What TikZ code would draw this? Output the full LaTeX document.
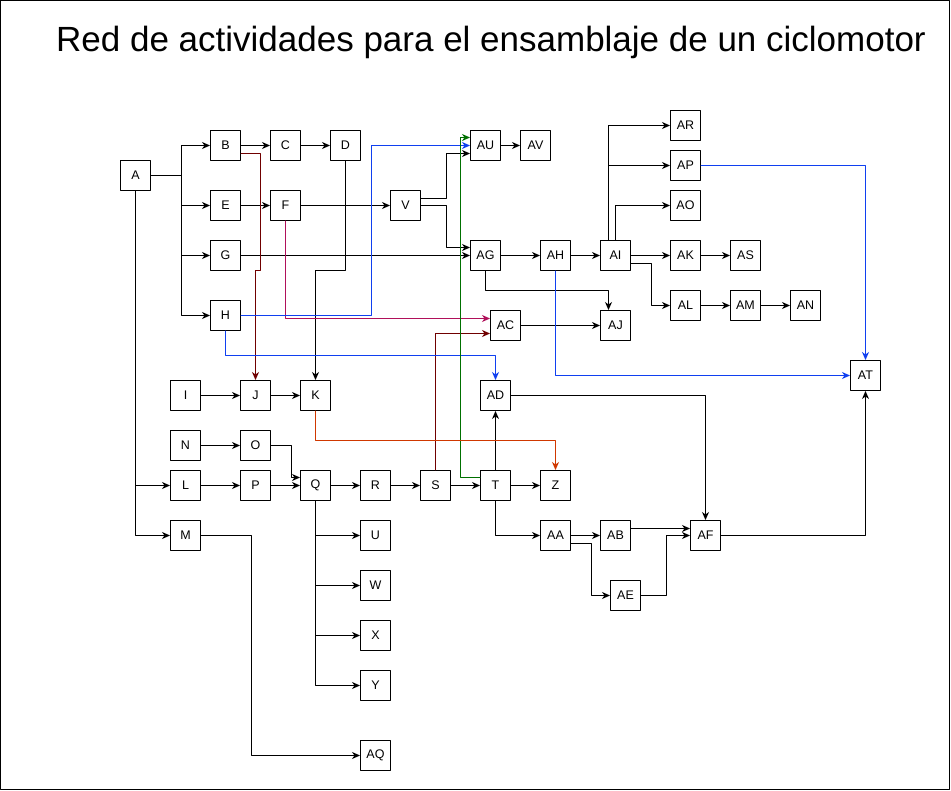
\documentclass[tikz,border=0pt]{standalone}
\usepackage{fontspec}
\setmainfont{Liberation Sans}
\usetikzlibrary{arrows.meta}
\definecolor{darkred}{HTML}{700000}
\definecolor{crimson}{HTML}{B0105A}
\definecolor{cobalt}{HTML}{1040F0}
\definecolor{forest}{HTML}{007000}
\definecolor{rust}{HTML}{D03800}
\begin{document}
\begin{tikzpicture}[x=1pt, y=-1pt, line cap=round, line join=round, >={Stealth[length=8pt, width=7pt, inset=2.5pt]}, line width=1pt,
	box/.style={draw, minimum size=30pt, inner sep=0pt, font=\fontsize{12.5}{14}\selectfont}]
	\useasboundingbox (-0.5,-0.5) rectangle (950.5,790.5);
	\draw (0,0) rectangle (949,789);
	\node[anchor=base, font=\fontsize{35}{40}\selectfont] (title) at (490.5,51.5) {Red de actividades para el ensamblaje de un ciclomotor};
	% activities
	\foreach \t/\x/\y in {A/135/175, B/225/145, C/285/145, D/345/145, E/225/205, F/285/205, G/225/255, H/225/315,
		I/185/395, J/255/395, K/315/395, N/185/445, O/255/445, L/185/485, P/255/485, Q/315/485, R/375/485,
		S/435/485, T/495/485, Z/555/485, M/185/535, U/375/535, W/375/585, X/375/635, Y/375/685, AQ/375/755,
		V/405/205, AU/485/145, AV/535/145, AG/485/255, AH/555/255, AI/615/255, AC/505/325, AJ/615/325,
		AD/495/395, AA/555/535, AB/615/535, AE/625/595, AF/705/535, AR/685/125, AP/685/165, AO/685/205,
		AK/685/255, AS/745/255, AL/685/305, AM/745/305, AN/805/305, AT/865/375}{
		\node[box] (\t) at (\x,\y) {\t};
	}
	% straight links
	\foreach \a/\b in {B/C, C/D, E/F, F/V, G/AG, AU/AV, AG/AH, AH/AI, AI/AK, AK/AS, AL/AM, AM/AN, AC/AJ,
		I/J, J/K, N/O, L/P, P/Q, Q/R, R/S, S/T, T/Z, T/AD, AA/AB}{
		\draw[->] (\a) -- (\b);
	}
	\foreach \t in {B,E,G,H}{
		\draw[->] (A.east) -- ++(30,0) |- (\t.west);
	}
	\foreach \t in {L,M}{
		\draw[->] (A.south) |- (\t.west);
	}
	\foreach \t in {U,W,X,Y}{
		\draw[->] (Q.south) |- (\t.west);
	}
	\foreach \t in {AR,AP}{
		\draw[->] ([xshift=-7pt]AI.north) |- (\t.west);
	}
	\draw[->] (AI.north) |- (AO.west);
	\draw[->] ([yshift=-8pt]AI.east) -- ++(20,0) |- (AL.west);
	\draw[->] (D.south) -- ++(0,110) -| (K.north);
	\draw[->] ([yshift=7pt]V.east) -- ++(25,0) |- ([yshift=-8pt]AU.west);
	\draw[->] (V.east) -- ++(25,0) |- ([yshift=8pt]AG.west);
	\draw[->] (AG.south) -- ++(0,20) -| ([xshift=-7pt]AJ.north);
	\draw[->] (O.east) -- ++(20,0) |- ([yshift=8pt]Q.west);
	\draw[->] (M.east) -- ++(50,0) |- (AQ.west);
	\draw[->] (T.south) |- (AA.west);
	\draw[->] ([yshift=-8pt]AA.east) -- ++(20,0) |- (AE.west);
	\draw[->] ([yshift=7pt]AB.east) -- ([yshift=7pt]AF.west);
	\draw[->] (AE.east) -- ++(25,0) |- (AF.west);
	\draw[->] (AD.east) -| (AF.north);
	\draw[->] (AF.east) -| (AT.south);
	% coloured links
	\draw[->, darkred] ([yshift=-8pt]B.east) -| (260,270) -| (J.north);
	\draw[->, darkred] (S.north) |- ([yshift=-8pt]AC.west);
	\draw[->, crimson] (F.south) |- ([yshift=7pt]AC.west);
	\draw[->, cobalt] (H.east) -- ++(130,0) |- (AU.west);
	\draw[->, cobalt] (H.south) -- ++(0,25) -| (AD.north);
	\draw[->, cobalt] (AH.south) |- (AT.west);
	\draw[->, cobalt] (AP.east) -| (AT.north);
	\draw[->, forest] ([yshift=8pt]T.west) -- ++(-20,0) |- ([yshift=8pt]AU.west);
	\draw[->, rust] (K.south) -- ++(0,30) -| (Z.north);
\end{tikzpicture}
\end{document}
